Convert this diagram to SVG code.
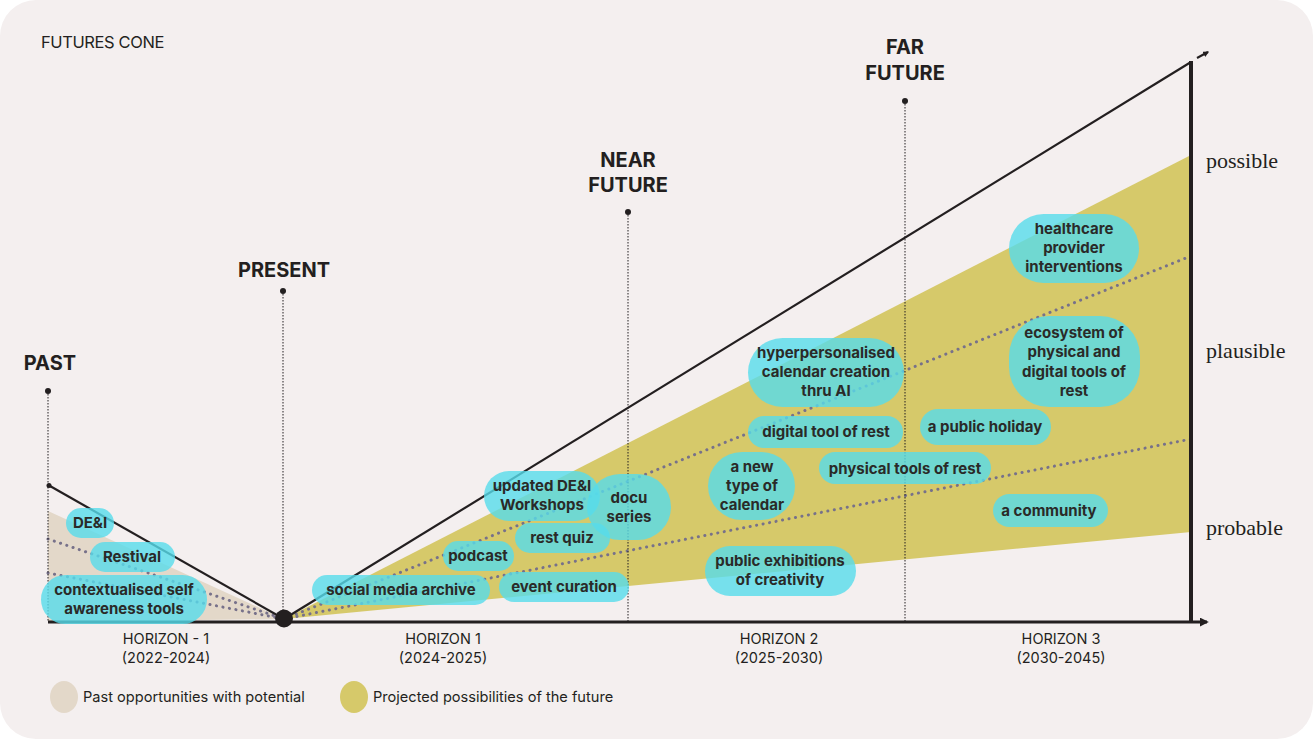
<svg xmlns="http://www.w3.org/2000/svg" width="1313" height="739" viewBox="0 0 1313 739">
<style>
.bg{fill:#f4efef}
.head{font-family:Inter,Lato,"Liberation Sans",sans-serif;font-weight:700;font-size:20px;fill:#231f20;text-anchor:middle}
.hz{font-family:Inter,Lato,"Liberation Sans",sans-serif;font-weight:400;font-size:14.5px;fill:#231f20;text-anchor:middle}
.lg{font-family:Inter,Lato,"Liberation Sans",sans-serif;font-weight:400;font-size:14.6px;fill:#231f20}
.sr{font-family:"Liberation Serif",serif;font-size:22px;fill:#231f20}
.bub{fill:#56dceb;opacity:0.8}
.bt{font-family:Inter,Lato,"Liberation Sans",sans-serif;font-weight:700;font-size:15px;fill:#2a2a28;text-anchor:middle}
.vd{stroke:#231f20;stroke-width:1;stroke-dasharray:1.5 1.5;fill:none}
.dot{stroke:#77718a;stroke-width:3;stroke-linecap:round;stroke-dasharray:0.1 6.5;fill:none}
.ln{stroke:#231f20;fill:none}
</style>
<defs>
<marker id="arr" viewBox="0 0 10 10" refX="8" refY="5" markerWidth="3" markerHeight="3" orient="auto"><path d="M0,0 L10,5 L0,10 z" fill="#231f20"/></marker>
</defs>
<rect width="1313" height="739" fill="#ffffff"/>
<rect class="bg" x="0" y="0" width="1313" height="739" rx="36"/>
<text x="41" y="48" style="font-family:Inter,Lato,'Liberation Sans',sans-serif;font-size:16.5px;fill:#231f20;letter-spacing:-0.4px">FUTURES CONE</text>

<g id="areas">
<polygon points="48,511 284,619 48,622" fill="#e3d8c9"/>
<polygon points="284,619 1191,155 1191,532" fill="#d6c96a"/>
</g>

<g id="connectors">
<line class="dot" x1="48" y1="539" x2="284" y2="619"/>
<line class="dot" x1="48" y1="573" x2="284" y2="619"/>
<line class="dot" x1="284" y1="619" x2="1191" y2="256"/>
<line class="dot" x1="284" y1="619" x2="1191" y2="439"/>
<line class="vd" x1="48" y1="391" x2="48" y2="622"/>
<line class="vd" x1="283" y1="291" x2="283" y2="612"/>
<line class="vd" x1="628" y1="212" x2="628" y2="622"/>
<line class="vd" x1="905" y1="101" x2="905" y2="622"/>
<line class="ln" stroke-width="2.2" x1="284" y1="619" x2="50" y2="486"/>
<line class="ln" stroke-width="2.2" x1="284" y1="619" x2="1191" y2="62"/>
<line class="ln" stroke-width="2" x1="1197" y1="58" x2="1208" y2="52" marker-end="url(#arr)"/>
<line class="ln" stroke-width="3" x1="48" y1="622" x2="1207" y2="622" marker-end="url(#arr)"/>
<line class="ln" stroke-width="4" x1="1191" y1="61" x2="1191" y2="622"/>
</g>

<g id="present-dot"><circle cx="284" cy="618.5" r="9" fill="#231f20"/></g>

<g id="past"><circle cx="48" cy="391" r="3" fill="#231f20"/><circle cx="49" cy="485.5" r="2.5" fill="#231f20"/><text class="head" x="50" y="370">PAST</text></g>
<g id="present"><circle cx="283" cy="291" r="3" fill="#231f20"/><text class="head" x="284" y="277">PRESENT</text></g>
<g id="near-future"><circle cx="628" cy="212" r="3" fill="#231f20"/><text class="head" x="628" y="167">NEAR</text><text class="head" x="628" y="192">FUTURE</text></g>
<g id="far-future"><circle cx="905" cy="101" r="3" fill="#231f20"/><text class="head" x="905" y="54">FAR</text><text class="head" x="905" y="80">FUTURE</text></g>

<g id="scale">
<text class="sr" x="1206" y="168">possible</text>
<text class="sr" x="1206" y="358">plausible</text>
<text class="sr" x="1206" y="535">probable</text>
</g>

<g id="horizons">
<text class="hz" x="166" y="644">HORIZON - 1</text><text class="hz" x="166" y="663">(2022-2024)</text>
<text class="hz" x="443" y="644">HORIZON 1</text><text class="hz" x="443" y="663">(2024-2025)</text>
<text class="hz" x="779" y="644">HORIZON 2</text><text class="hz" x="779" y="663">(2025-2030)</text>
<text class="hz" x="1061" y="644">HORIZON 3</text><text class="hz" x="1061" y="663">(2030-2045)</text>
</g>

<g id="legend">
<ellipse cx="64" cy="697" rx="14" ry="16" fill="#e3d8c9"/>
<text class="lg" x="83" y="702">Past opportunities with potential</text>
<ellipse cx="354" cy="697" rx="14" ry="16" fill="#d6c96a"/>
<text class="lg" x="373" y="702">Projected possibilities of the future</text>
</g>

<g id="n-dei"><rect class="bub" x="66" y="508" width="48" height="30" rx="15"/><text class="bt" x="90" y="528">DE&amp;I</text></g>
<g id="n-restival"><rect class="bub" x="90" y="542" width="85" height="30" rx="15"/><text class="bt" x="132" y="562">Restival</text></g>
<g id="n-context"><rect class="bub" x="41" y="575" width="166" height="49" rx="24.5"/><text class="bt" x="124" y="595">contextualised self</text><text class="bt" x="124" y="614">awareness tools</text></g>
<g id="n-social"><rect class="bub" x="312" y="575" width="178" height="30" rx="15"/><text class="bt" x="401" y="595">social media archive</text></g>
<g id="n-event"><rect class="bub" x="499" y="572" width="130" height="30" rx="15"/><text class="bt" x="564" y="592">event curation</text></g>
<g id="n-podcast"><rect class="bub" x="443" y="541" width="71" height="30" rx="15"/><text class="bt" x="478" y="561">podcast</text></g>
<g id="n-restquiz"><rect class="bub" x="515" y="523" width="95" height="30" rx="15"/><text class="bt" x="562" y="543">rest quiz</text></g>
<g id="n-workshops"><rect class="bub" x="484" y="471" width="116" height="50" rx="25"/><text class="bt" x="542" y="491">updated DE&amp;I</text><text class="bt" x="542" y="510">Workshops</text></g>
<g id="n-docu"><rect class="bub" x="587" y="474" width="84" height="66" rx="33"/><text class="bt" x="629" y="503">docu</text><text class="bt" x="629" y="522">series</text></g>
<g id="n-hyper"><rect class="bub" x="748" y="338" width="156" height="69" rx="34.5"/><text class="bt" x="826" y="358">hyperpersonalised</text><text class="bt" x="826" y="377">calendar creation</text><text class="bt" x="826" y="396">thru AI</text></g>
<g id="n-digital"><rect class="bub" x="748" y="416" width="155" height="32" rx="16"/><text class="bt" x="826" y="437">digital tool of rest</text></g>
<g id="n-calendar"><rect class="bub" x="708" y="452" width="87" height="68" rx="34"/><text class="bt" x="752" y="472">a new</text><text class="bt" x="752" y="491">type of</text><text class="bt" x="752" y="510">calendar</text></g>
<g id="n-physical"><rect class="bub" x="819" y="452" width="172" height="32" rx="16"/><text class="bt" x="905" y="474">physical tools of rest</text></g>
<g id="n-holiday"><rect class="bub" x="920" y="409" width="131" height="36" rx="18"/><text class="bt" x="985" y="432">a public holiday</text></g>
<g id="n-community"><rect class="bub" x="993" y="494" width="115" height="33" rx="16.5"/><text class="bt" x="1049" y="516">a community</text></g>
<g id="n-exhibitions"><rect class="bub" x="705" y="546" width="151" height="50" rx="25"/><text class="bt" x="780" y="566">public exhibitions</text><text class="bt" x="780" y="585">of creativity</text></g>
<g id="n-ecosystem"><rect class="bub" x="1009" y="316" width="131" height="91" rx="40"/><text class="bt" x="1074" y="338">ecosystem of</text><text class="bt" x="1074" y="357">physical and</text><text class="bt" x="1074" y="377">digital tools of</text><text class="bt" x="1074" y="396">rest</text></g>
<g id="n-healthcare"><rect class="bub" x="1009" y="214" width="130" height="69" rx="34.5"/><text class="bt" x="1074" y="234">healthcare</text><text class="bt" x="1074" y="253">provider</text><text class="bt" x="1074" y="272">interventions</text></g>
</svg>
